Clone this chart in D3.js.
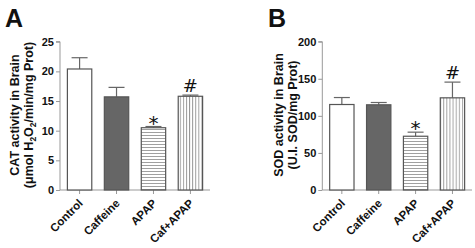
<!DOCTYPE html>
<html><head><meta charset="utf-8">
<script src="https://cdn.jsdelivr.net/npm/d3@7"></script>
<style>body{margin:0;background:#fff}svg{display:block}text{font-family:"Liberation Sans",Arial,sans-serif;font-weight:bold;fill:#111}</style>
</head><body><svg id="c" width="475" height="248"></svg>
<script>
const categories = ["Control","Caffeine","APAP","Caf+APAP"];
const catMean = [20.4, 15.7, 10.5, 15.8];
const catErr = [1.9, 1.6, 0.2, 0.2];
const catTicks = [0,5,10,15,20,25];
const sodMean = [115.3, 114.9, 72.5, 124.3];
const sodErr = [9.4, 3.1, 5.5, 21.2];
const sodTicks = [0,50,100,150,200];
const marks = ["", "", "*", "#"];
const fills = ["white","#666","hstripe","vstripe"];

const svg = d3.select("#c");
const defs = svg.append("defs");
const hp = defs.append("pattern").attr("id","hstripe").attr("patternUnits","userSpaceOnUse").attr("width",6).attr("height",3);
hp.append("rect").attr("width",6).attr("height",3).attr("fill","white");
hp.append("line").attr("x1",0).attr("x2",6).attr("y1",0.5).attr("y2",0.5).attr("stroke","#888").attr("stroke-width",0.8);
const vp = defs.append("pattern").attr("id","vstripe").attr("patternUnits","userSpaceOnUse").attr("width",3.1).attr("height",6);
vp.append("rect").attr("width",3.1).attr("height",6).attr("fill","white");
vp.append("line").attr("y1",0).attr("y2",6).attr("x1",0.5).attr("x2",0.5).attr("stroke","#888").attr("stroke-width",0.8);

function panel(o){
  const g = svg.append("g");
  const x = d3.scaleBand().domain(categories).range([o.x0, o.x1]).paddingInner(0.34).paddingOuter(0.2);
  const y = d3.scaleLinear().domain([0, o.max]).range([190, 41.7]);
  const ya = g.append("g").attr("transform",`translate(${o.x0},0)`).call(d3.axisLeft(y).tickValues(o.ticks).tickSize(4).tickPadding(2));
  ya.selectAll("path,line").attr("stroke","#999");
  ya.select(".domain").attr("d",`M-4,${y(o.max)}H0V${y(0)}`);
  ya.selectAll("text").style("font-size","11px").style("font-family","Liberation Sans, Arial").style("font-weight","bold").attr("fill","#111");
  const xa = g.append("g").attr("transform","translate(0,190)").call(d3.axisBottom(x).tickSize(4).tickSizeOuter(0).tickFormat(""));
  xa.selectAll("path,line").attr("stroke","#999");
  xa.select(".domain").attr("d",`M${o.x0},0H${o.x1}`);
  categories.forEach(c=>{
    g.append("text").attr("transform",`translate(${x(c)+x.bandwidth()/2+4},${204}) rotate(-45)`)
      .attr("text-anchor","end").style("font-size","11.5px").text(c);
  });
  o.mean.forEach((v,i)=>{
    const c = categories[i], cx = x(c)+x.bandwidth()/2;
    const top = y(v+o.err[i]);
    g.append("line").attr("x1",cx).attr("x2",cx).attr("y1",y(v)).attr("y2",top).attr("stroke","#666").attr("stroke-width",1.2);
    g.append("line").attr("x1",cx-8).attr("x2",cx+8).attr("y1",top).attr("y2",top).attr("stroke","#666").attr("stroke-width",1.2);
    const f = fills[i];
    g.append("rect").attr("x",x(c)).attr("y",y(v)).attr("width",x.bandwidth()).attr("height",y(0)-y(v))
      .attr("fill", f.indexOf("stripe")>=0 ? `url(#${f})` : f).attr("stroke","#555").attr("stroke-width",1.2);
    if(marks[i]){
      const star = marks[i]==="*";
      g.append("text").attr("x",cx).attr("y", star ? top+3 : top-3)
        .attr("text-anchor","middle").style("font-size", star?"20px":"18px")
        .style("font-weight","normal").style("font-family","DejaVu Sans, sans-serif")
        .text(marks[i]);
    }
  });
  const lg = g.append("text").attr("transform",`translate(${o.lx},115) rotate(-90)`).attr("text-anchor","middle").style("font-size","12.5px");
  lg.append("tspan").attr("x",0).attr("dy",0).text(o.l1);
  const t2 = lg.append("tspan").attr("x",0).attr("dy",13.5);
  o.l2(t2, lg);
  svg.append("text").attr("x",o.px).attr("y",27).style("font-size","25px").text(o.letter);
}

panel({x0:60,x1:210,max:25,ticks:catTicks,mean:catMean,err:catErr,lx:19,l1:"CAT activity in Brain",
  l2:(t,lg)=>{t.text("(μmol H");lg.append("tspan").attr("dy",3).style("font-size","8.5px").text("2");
    lg.append("tspan").attr("dy",-3).text("O");lg.append("tspan").attr("dy",3).style("font-size","8.5px").text("2");
    lg.append("tspan").attr("dy",-3).text("/min/mg Prot)");},letter:"A",px:5});
panel({x0:322.3,x1:472,max:200,ticks:sodTicks,mean:sodMean,err:sodErr,lx:283,l1:"SOD activity in Brain",
  l2:(t)=>{t.text("(U.I. SOD/mg Prot)");},letter:"B",px:268});
</script></body></html>
